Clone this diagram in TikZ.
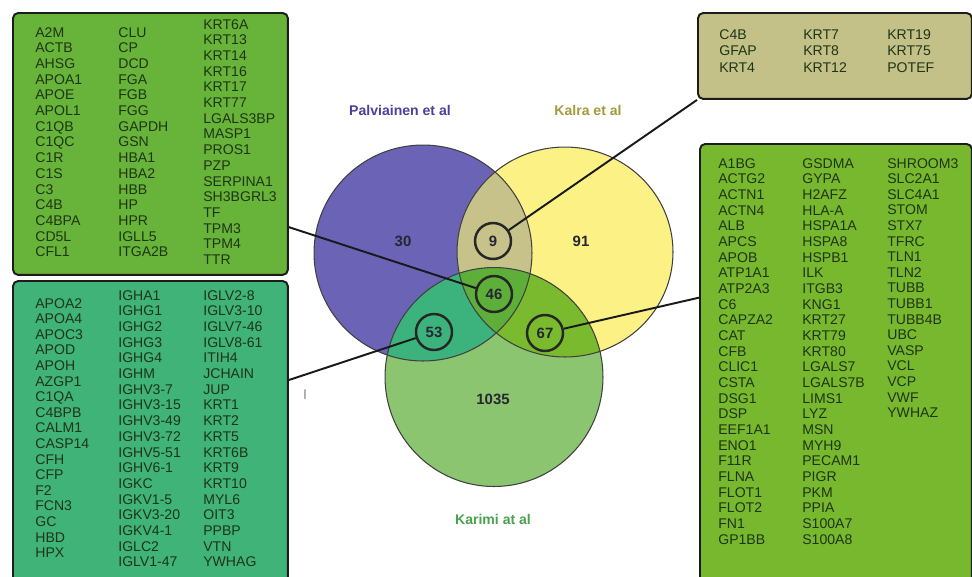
\documentclass[tikz,border=0pt]{standalone}
\usepackage{fontspec}
\setmainfont{Liberation Sans}
\definecolor{palvfill}{HTML}{6B63B5}
\definecolor{kalrafill}{HTML}{FCF185}
\definecolor{karimifill}{HTML}{8CC56F}
\definecolor{pkfill}{HTML}{C6C28A}
\definecolor{pgfill}{HTML}{3CB37C}
\definecolor{kgfill}{HTML}{7ABA2E}
\definecolor{allfill}{HTML}{5DAF3A}
\definecolor{tlboxfill}{HTML}{68B33A}
\definecolor{blboxfill}{HTML}{3FB378}
\definecolor{trboxfill}{HTML}{C3C088}
\definecolor{rboxfill}{HTML}{78B82F}
\definecolor{genetext}{HTML}{1F3514}
\definecolor{numtext}{HTML}{262633}
\definecolor{boxline}{HTML}{1C1C1C}
\definecolor{palvtext}{HTML}{4C409A}
\definecolor{kalratext}{HTML}{A29B3E}
\definecolor{karimitext}{HTML}{4AA24C}

\begin{document}
\begin{tikzpicture}[x=0.02cm,y=-0.02cm,
	gene/.style={anchor=base west,inner sep=0pt,text=genetext,font=\fontsize{8}{9.5}\selectfont},
	listbox/.style={draw=boxline,line width=1.1pt,rounded corners=3pt,anchor=north west,inner sep=0pt},
	hit/.style={circle,draw=black!85,line width=1.4pt,minimum size=0.72cm,inner sep=0pt,text=numtext,font=\fontsize{8.5}{10}\selectfont\bfseries},
	count/.style={text=numtext,font=\fontsize{8.5}{10}\selectfont\bfseries},
	setname/.style={font=\fontsize{8}{10}\selectfont\bfseries},
	link/.style={line width=1.1pt,draw=black!90}]

	\clip (0,0) rectangle (972,576);
	\fill[white] (0,0) rectangle (972,576);

	\node[listbox,fill=tlboxfill,minimum width=5.5cm,minimum height=5.24cm] (tlbox) at (12,12) {};
	\node[listbox,fill=blboxfill,minimum width=5.5cm,minimum height=6.2cm] (blbox) at (12,280) {};
	\node[listbox,fill=trboxfill,minimum width=5.48cm,minimum height=1.72cm] (trbox) at (697,12) {};
	\node[listbox,fill=rboxfill,minimum width=5.44cm,minimum height=8.94cm] (rbox) at (699,143) {};

	\coordinate (palv) at (423,253);
	\coordinate (kalra) at (565,252);
	\coordinate (karimi) at (494,377);
	\fill[palvfill] (palv) ellipse [x radius=2.18cm, y radius=2.16cm];
	\fill[kalrafill] (kalra) ellipse [x radius=2.16cm, y radius=2.1cm];
	\begin{scope}
		\clip (palv) ellipse [x radius=2.18cm, y radius=2.16cm];
		\fill[pkfill] (kalra) ellipse [x radius=2.16cm, y radius=2.1cm];
	\end{scope}
	\fill[karimifill] (karimi) ellipse [x radius=2.18cm, y radius=2.19cm];
	\begin{scope}
		\clip (palv) ellipse [x radius=2.18cm, y radius=2.16cm];
		\fill[pgfill] (karimi) ellipse [x radius=2.18cm, y radius=2.19cm];
	\end{scope}
	\begin{scope}
		\clip (kalra) ellipse [x radius=2.16cm, y radius=2.1cm];
		\fill[kgfill] (karimi) ellipse [x radius=2.18cm, y radius=2.19cm];
	\end{scope}
	\begin{scope}
		\clip (palv) ellipse [x radius=2.18cm, y radius=2.16cm];
		\clip (kalra) ellipse [x radius=2.16cm, y radius=2.1cm];
		\fill[allfill] (karimi) ellipse [x radius=2.18cm, y radius=2.19cm];
	\end{scope}
	\draw[black!75,line width=0.6pt] (palv) ellipse [x radius=2.18cm, y radius=2.16cm];
	\draw[black!75,line width=0.6pt] (kalra) ellipse [x radius=2.16cm, y radius=2.1cm];
	\draw[black!75,line width=0.6pt] (karimi) ellipse [x radius=2.18cm, y radius=2.19cm];

	\node[setname,text=palvtext] (palvname) at (400,110) {Palviainen et al};
	\node[setname,text=kalratext] (kalraname) at (588,110) {Kalra et al};
	\node[setname,text=karimitext] (kariminame) at (493,519) {Karimi at al};

	\node[count] (n30) at (403,241) {30};
	\node[count] (n91) at (581,241) {91};
	\node[count] (n1035) at (493,399) {1035};
	\node[hit] (n9) at (493,241) {9};
	\node[hit] (n46) at (494,294) {46};
	\node[hit] (n53) at (434,332) {53};
	\node[hit] (n67) at (545,333) {67};
	\node[text=black!45,font=\fontsize{8}{10}\selectfont] (tick) at (305,395) {I};

	\draw[link] (tlbox.-31.4) -- (n46);
	\draw[link] (trbox.south west) -- (n9);
	\draw[link] (rbox.153.9) -- (n67);
	\draw[link] (blbox.22.5) -- (n53);

	\foreach \g [count=\i from 0] in {A2M,ACTB,AHSG,APOA1,APOE,APOL1,C1QB,C1QC,C1R,C1S,C3,C4B,C4BPA,CD5L,CFL1}
		\node[gene] (tl1_\i) at (35,{37+15.7*\i}) {\g};
	\foreach \g [count=\i from 0] in {CLU,CP,DCD,FGA,FGB,FGG,GAPDH,GSN,HBA1,HBA2,HBB,HP,HPR,IGLL5,ITGA2B}
		\node[gene] (tl2_\i) at (118,{37+15.7*\i}) {\g};
	\foreach \g [count=\i from 0] in {KRT6A,KRT13,KRT14,KRT16,KRT17,KRT77,LGALS3BP,MASP1,PROS1,PZP,SERPINA1,SH3BGRL3,TF,TPM3,TPM4,TTR}
		\node[gene] (tl3_\i) at (203,{29+15.7*\i}) {\g};

	\foreach \g [count=\i from 0] in {APOA2,APOA4,APOC3,APOD,APOH,AZGP1,C1QA,C4BPB,CALM1,CASP14,CFH,CFP,F2,FCN3,GC,HBD,HPX}
		\node[gene] (bl1_\i) at (35,{308+15.6*\i}) {\g};
	\foreach \g [count=\i from 0] in {IGHA1,IGHG1,IGHG2,IGHG3,IGHG4,IGHM,IGHV3-7,IGHV3-15,IGHV3-49,IGHV3-72,IGHV5-51,IGHV6-1,IGKC,IGKV1-5,IGKV3-20,IGKV4-1,IGLC2,IGLV1-47}
		\node[gene] (bl2_\i) at (118,{300+15.7*\i}) {\g};
	\foreach \g [count=\i from 0] in {IGLV2-8,IGLV3-10,IGLV7-46,IGLV8-61,ITIH4,JCHAIN,JUP,KRT1,KRT2,KRT5,KRT6B,KRT9,KRT10,MYL6,OIT3,PPBP,VTN,YWHAG}
		\node[gene] (bl3_\i) at (203,{300+15.7*\i}) {\g};

	\foreach \g [count=\i from 0] in {C4B,GFAP,KRT4}
		\node[gene] (tr1_\i) at (719,{39+16.5*\i}) {\g};
	\foreach \g [count=\i from 0] in {KRT7,KRT8,KRT12}
		\node[gene] (tr2_\i) at (803,{39+16.5*\i}) {\g};
	\foreach \g [count=\i from 0] in {KRT19,KRT75,POTEF}
		\node[gene] (tr3_\i) at (887,{39+16.5*\i}) {\g};

	\foreach \g [count=\i from 0] in {A1BG,ACTG2,ACTN1,ACTN4,ALB,APCS,APOB,ATP1A1,ATP2A3,C6,CAPZA2,CAT,CFB,CLIC1,CSTA,DSG1,DSP,EEF1A1,ENO1,F11R,FLNA,FLOT1,FLOT2,FN1,GP1BB}
		\node[gene] (r1_\i) at (718,{168+15.67*\i}) {\g};
	\foreach \g [count=\i from 0] in {GSDMA,GYPA,H2AFZ,HLA-A,HSPA1A,HSPA8,HSPB1,ILK,ITGB3,KNG1,KRT27,KRT79,KRT80,LGALS7,LGALS7B,LIMS1,LYZ,MSN,MYH9,PECAM1,PIGR,PKM,PPIA,S100A7,S100A8}
		\node[gene] (r2_\i) at (802,{168+15.67*\i}) {\g};
	\foreach \g [count=\i from 0] in {SHROOM3,SLC2A1,SLC4A1,STOM,STX7,TFRC,TLN1,TLN2,TUBB,TUBB1,TUBB4B,UBC,VASP,VCL,VCP,VWF,YWHAZ}
		\node[gene] (r3_\i) at (887,{168+15.6*\i}) {\g};
\end{tikzpicture}
\end{document}
